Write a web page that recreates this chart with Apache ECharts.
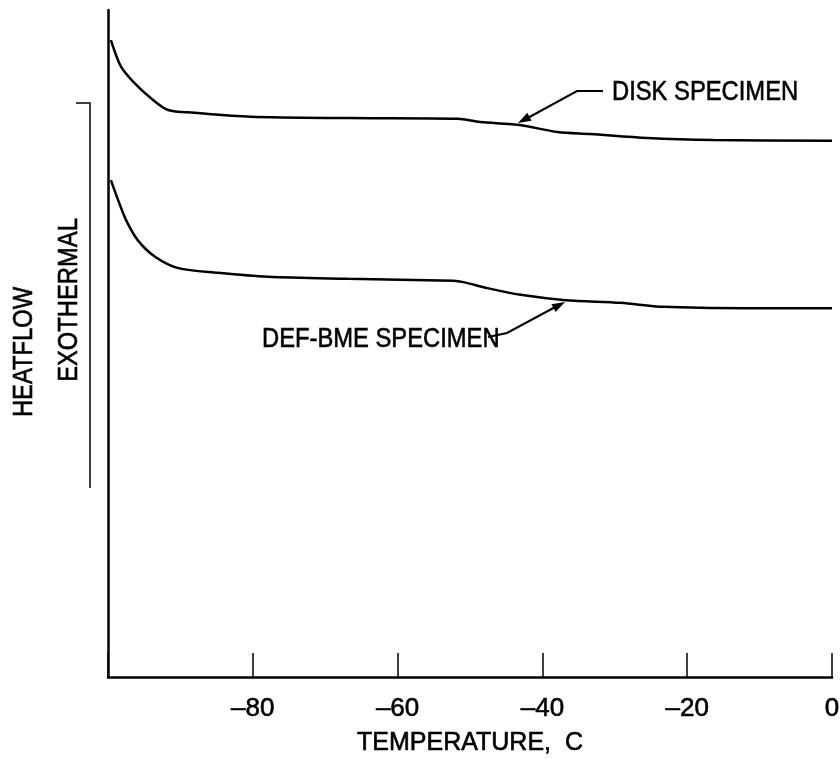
<!DOCTYPE html>
<html>
<head>
<meta charset="utf-8">
<script src="https://cdn.jsdelivr.net/npm/echarts@6/dist/echarts.min.js"></script>
<style>
  html, body { margin: 0; padding: 0; background: #fff; }
  #main { width: 840px; height: 759px; }
</style>
</head>
<body>
<div id="main"></div>
<script>
// temperature (C) and heat flow (arbitrary units)
var diskTemp = [-99.6, -98.2, -96.4, -94.1, -91.7, -88.1, -80.3, -66.9, -51.7, -48.6, -43.4, -37.9, -33.4, -25.5, -16.4, 0];
var diskFlow = [95.5, 91.5, 89.1, 86.8, 85.0, 84.6, 84.0, 83.8, 83.7, 83.2, 82.8, 81.7, 81.4, 80.8, 80.5, 80.4];
var bmeTemp = [-99.6, -98.6, -97.5, -95.9, -93.5, -90.3, -84.8, -77.9, -66.9, -52.3, -50.9, -47.6, -43.0, -36.8, -29.2, -23.3, -11.7, 0];
var bmeFlow = [74.5, 71.5, 68.5, 65.5, 63.0, 61.3, 60.6, 60.0, 59.7, 59.4, 59.2, 58.3, 57.3, 56.5, 56.1, 55.5, 55.3, 55.3];
var xTicks = [-100, -80, -60, -40, -20, 0];

var fnt = "'Liberation Sans', Arial, sans-serif";

function pairs(xs, ys) {
    var out = [];
    for (var i = 0; i < xs.length; i++) {
        out.push([xs[i], ys[i]]);
    }
    return out;
}

// condensed looking text (no narrow font installed, so squeeze it)
function label(txt, x, y, rot, align) {
    return {
        type: 'text', x: x, y: y, rotation: rot, scaleX: 0.88,
        style: {
            text: txt, fill: '#000', font: '27px ' + fnt,
            stroke: '#000', lineWidth: 0.6,
            align: align, verticalAlign: 'middle'
        }
    };
}

// small filled arrow head at tip, coming from (fx, fy)
function head(fx, fy, tx, ty) {
    var dx = tx - fx, dy = ty - fy;
    var len = Math.sqrt(dx * dx + dy * dy);
    var ux = dx / len, uy = dy / len;
    var bx = tx - 13 * ux, by = ty - 13 * uy;
    return {
        type: 'polygon',
        shape: { points: [[tx, ty], [bx - 4.5 * uy, by + 4.5 * ux], [bx + 4.5 * uy, by - 4.5 * ux]] },
        style: { fill: '#000' }
    };
}

var myChart = echarts.init(document.getElementById('main'));
var option = {
    backgroundColor: '#fff',
    animation: false,
    grid: { left: 108, right: 8, top: 10, bottom: 82, outerBoundsMode: 'none' },
    xAxis: {
        type: 'value',
        min: xTicks[0],
        max: xTicks[xTicks.length - 1],
        interval: 20,
        name: 'TEMPERATURE,  C',
        nameLocation: 'middle',
        nameGap: 54,
        nameTextStyle: { color: '#000', fontSize: 25, fontFamily: fnt, textBorderColor: '#000', textBorderWidth: 0.6 },
        axisLine: { lineStyle: { color: '#000', width: 2.5 } },
        axisTick: { inside: true, length: 24, lineStyle: { color: '#000', width: 1.5 } },
        axisLabel: {
            color: '#000',
            fontSize: 26,
            fontFamily: fnt,
            textBorderColor: '#000',
            textBorderWidth: 0.6,
            margin: 19,
            formatter: function (v) {
                if (v === xTicks[0]) return '';
                return v < 0 ? '\u2013' + (-v) : '' + v;
            }
        },
        splitLine: { show: false }
    },
    yAxis: {
        type: 'value',
        min: 0,
        max: 100,
        axisLine: { show: true, onZero: false, lineStyle: { color: '#000', width: 2.5 } },
        axisTick: { show: false },
        axisLabel: { show: false },
        splitLine: { show: false }
    },
    series: [
        {
            name: 'DISK SPECIMEN',
            type: 'line',
            data: pairs(diskTemp, diskFlow),
            smooth: 0.3,
            showSymbol: false,
            lineStyle: { color: '#000', width: 2.5 }
        },
        {
            name: 'DEF-BME SPECIMEN',
            type: 'line',
            data: pairs(bmeTemp, bmeFlow),
            smooth: 0.3,
            showSymbol: false,
            lineStyle: { color: '#000', width: 2.5 }
        }
    ],
    graphic: [
        // bracket beside the y axis
        { type: 'polyline', shape: { points: [[76, 103], [90, 103], [90, 488]] }, style: { stroke: '#000', lineWidth: 1.5, fill: null } },
        label('HEATFLOW', 25, 352, Math.PI / 2, 'center'),
        label('EXOTHERMAL', 70, 300, Math.PI / 2, 'center'),
        // disk specimen label and leader
        label('DISK SPECIMEN', 612, 93, 0, 'left'),
        { type: 'polyline', shape: { points: [[603, 91], [577, 91], [524, 120]] }, style: { stroke: '#000', lineWidth: 2, fill: null } },
        head(577, 91, 518, 123),
        // def-bme specimen label and leader
        label('DEF-BME SPECIMEN', 262, 340, 0, 'left'),
        { type: 'polyline', shape: { points: [[488, 337], [507, 333], [559, 305]] }, style: { stroke: '#000', lineWidth: 2, fill: null } },
        head(507, 333, 565, 302)
    ]
};
myChart.setOption(option, true);
</script>
</body>
</html>
